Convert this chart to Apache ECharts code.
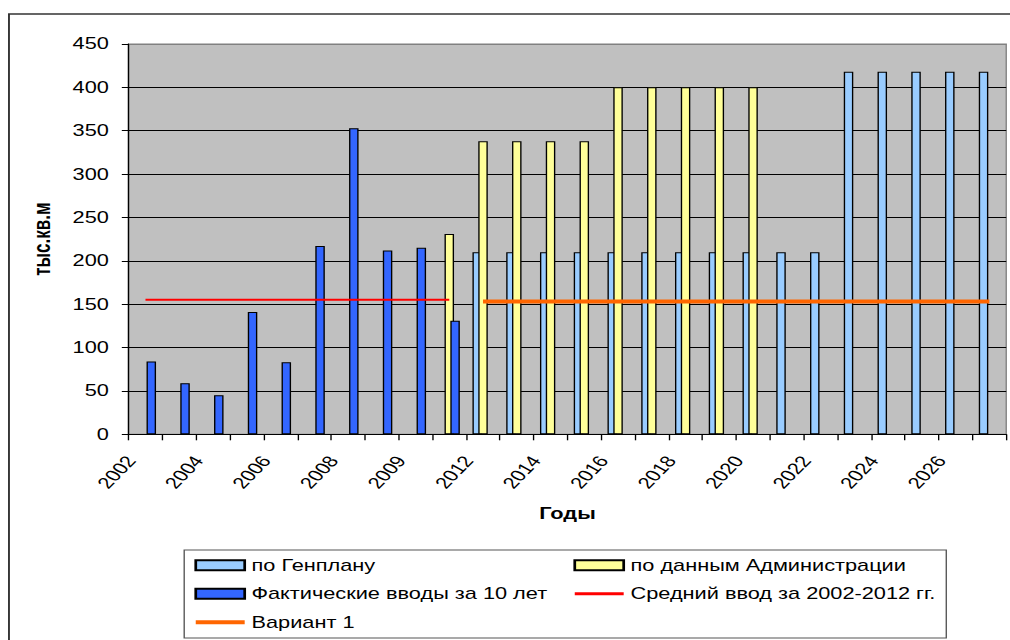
<!DOCTYPE html>
<html>
<head>
<meta charset="utf-8">
<script src="https://cdn.jsdelivr.net/npm/echarts@6/dist/echarts.min.js"></script>
<style>
  html, body { margin: 0; padding: 0; background: #fff; overflow: hidden; }
  #wrap { width: 1010px; height: 640px; overflow: hidden; }
  /* the chart is laid out narrower and widened horizontally, giving the wide lettering of the original sheet */
  #chart { width: 743px; height: 640px; transform: scaleX(1.3594); transform-origin: 0 0; }
</style>
</head>
<body>
<div id="wrap"><div id="chart"></div></div>
<script>
// Years on the category axis (every second one is labelled)
const categories = [
  '2002', '2003', '2004', '2005', '2006', '2007', '2008', '2008', '2009', '2011',
  '2012', '2013', '2014', '2015', '2016', '2017', '2018', '2019', '2020', '2021',
  '2022', '2023', '2024', '2025', '2026', '2027'
];

// по Генплану, тыс. кв. м
const genplan = [
  null, null, null, null, null, null, null, null, null, null,
  210, 210, 210, 210, 210, 210, 210, 210, 210, 210,
  210, 418, 418, 418, 418, 418
];

// по данным Администрации
const admin = [
  null, null, null, null, null, null, null, null, null, 231,
  338, 338, 338, 338, 400, 400, 400, 400, 400, null,
  null, null, null, null, null, null
];

// Фактические вводы за 10 лет
const actual = [
  84, 59, 45, 141, 83, 217, 353, 212, 215, 131,
  null, null, null, null, null, null, null, null, null, null,
  null, null, null, null, null, null
];

// Средний ввод за 2002-2012 гг.
const average = [
  155, 155, 155, 155, 155, 155, 155, 155, 155, 155,
  null, null, null, null, null, null, null, null, null, null,
  null, null, null, null, null, null
];

// Вариант 1
const variant1 = [
  null, null, null, null, null, null, null, null, null, null,
  153, 153, 153, 153, 153, 153, 153, 153, 153, 153,
  153, 153, 153, 153, 153, 153
];

// Value axis scale
const yMin = 0;
const yMax = 450;
const yStep = 50;

const FONT = "'Liberation Sans', Arial, sans-serif";
const chart = echarts.init(document.getElementById('chart'), null, { renderer: 'svg' });

const barBase = {
  type: 'bar',
  barWidth: 7,
  barGap: '-39%',
  z: 2
};

const gridLineColors = [];
for (let v = yMin; v <= yMax; v += yStep) {
  gridLineColors.push(v === yMax ? '#808080' : '#000000');
}

const legendText = { fontFamily: FONT, fontSize: 16, color: '#000', lineHeight: 18.5 };
// line entries in the legend show only the stroke, without a point marker
const plainLine = { opacity: 0 };

chart.setOption({
  animation: false,
  backgroundColor: '#ffffff',
  textStyle: { fontFamily: FONT, color: '#000' },
  grid: {
    left: 94.6, right: 2.8, top: 44, bottom: 205.7,
    show: true,
    backgroundColor: '#c0c0c0',
    borderColor: '#808080',
    borderWidth: 1,
    outerBoundsMode: 'none',
    containLabel: false
  },
  graphic: [
    {
      type: 'rect', silent: true, z: 0,
      shape: { x: 6.6, y: 14, width: 800, height: 700 },
      style: { fill: 'none', stroke: '#333', lineWidth: 1.4 }
    },
    {
      type: 'rect', silent: true, z: 0,
      shape: { x: 135.5, y: 550, width: 560.6, height: 88 },
      style: { fill: '#fff', stroke: '#555', lineWidth: 1 }
    }
  ],
  legend: [
    {
      data: [
        { name: 'по Генплану', icon: 'rect' },
        { name: 'Фактические вводы за 10 лет', icon: 'rect' },
        { name: 'Вариант 1', itemStyle: plainLine, lineStyle: { color: '#ff6600', width: 4 } }
      ],
      orient: 'vertical', left: 142, top: 556, padding: 0,
      itemWidth: 36, itemHeight: 10, itemGap: 10,
      selectedMode: false,
      textStyle: legendText
    },
    {
      data: [
        { name: 'по данным Администрации', icon: 'rect' },
        { name: 'Средний ввод за 2002-2012 гг.', itemStyle: plainLine, lineStyle: { color: '#ff0000', width: 3 } }
      ],
      orient: 'vertical', left: 421.3, top: 556, padding: 0,
      itemWidth: 36, itemHeight: 10, itemGap: 10,
      selectedMode: false,
      textStyle: legendText
    }
  ],
  xAxis: {
    type: 'category',
    data: categories,
    boundaryGap: true,
    name: 'Годы',
    nameLocation: 'middle',
    nameGap: 71,
    nameTextStyle: { fontFamily: FONT, fontSize: 16, fontWeight: 'bold', color: '#000' },
    axisLine: { show: true, lineStyle: { color: '#000', width: 1 } },
    axisTick: { show: true, interval: 0, length: 6, lineStyle: { color: '#000' } },
    axisLabel: {
      interval: 1,
      rotate: 53.7,
      margin: 9,
      padding: [0, 18, 0, 0],
      fontFamily: FONT,
      fontSize: 16,
      color: '#000'
    },
    splitLine: { show: false }
  },
  yAxis: {
    type: 'value',
    min: yMin, max: yMax, interval: yStep,
    name: 'тыс.кв.м',
    nameLocation: 'middle',
    nameRotate: 90,
    nameGap: 55,
    nameTextStyle: { fontFamily: FONT, fontSize: 17, fontWeight: 'bold', color: '#000' },
    axisLine: { show: true, lineStyle: { color: '#000', width: 1 } },
    axisTick: { show: true, length: 5, lineStyle: { color: '#000' } },
    axisLabel: { margin: 14.5, fontFamily: FONT, fontSize: 16, color: '#000' },
    splitLine: { show: true, lineStyle: { color: gridLineColors, width: 1 } }
  },
  series: [
    Object.assign({}, barBase, {
      name: 'по Генплану',
      data: genplan,
      itemStyle: { color: '#99ccff', borderColor: '#000', borderWidth: 1 }
    }),
    Object.assign({}, barBase, {
      name: 'по данным Администрации',
      data: admin,
      itemStyle: { color: '#ffff99', borderColor: '#000', borderWidth: 1 }
    }),
    Object.assign({}, barBase, {
      name: 'Фактические вводы за 10 лет',
      data: actual,
      itemStyle: { color: '#3366ff', borderColor: '#000', borderWidth: 1 }
    }),
    {
      type: 'line',
      name: 'Средний ввод за 2002-2012 гг.',
      data: average,
      symbol: 'none',
      z: 5,
      lineStyle: { color: '#ff0000', width: 2 },
      itemStyle: { color: '#ff0000' }
    },
    {
      type: 'line',
      name: 'Вариант 1',
      data: variant1,
      symbol: 'none',
      z: 5,
      lineStyle: { color: '#ff6600', width: 4 },
      itemStyle: { color: '#ff6600' }
    }
  ]
});
</script>
</body>
</html>
